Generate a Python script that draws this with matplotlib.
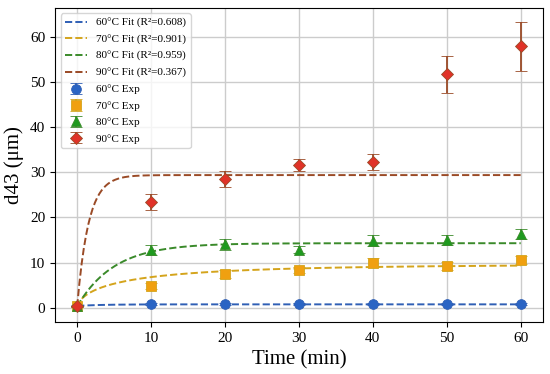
import numpy as np
import matplotlib
matplotlib.use('Agg')
import matplotlib.pyplot as plt

plt.rcParams['font.family'] = ['Liberation Serif', 'DejaVu Serif']
plt.rcParams['mathtext.fontset'] = 'stix'

time_min = [0, 10, 20, 30, 40, 50, 60]
labels = ['60°C', '70°C', '80°C', '90°C']
r2 = ['0.608', '0.901', '0.959', '0.367']

d43_60 = [0.4, 0.8, 0.8, 0.9, 0.8, 0.8, 0.8]
d43_70 = [0.3, 4.8, 7.5, 8.3, 10.0, 9.3, 10.6]
d43_80 = [0.3, 12.8, 14.1, 12.9, 14.9, 15.0, 16.3]
d43_90 = [0.3, 23.5, 28.6, 31.7, 32.3, 51.8, 57.9]

err_60 = [0.1, 0.2, 0.2, 0.2, 0.2, 0.2, 0.2]
err_70 = [0.1, 0.6, 0.8, 0.7, 1.0, 0.9, 0.9]
err_80 = [0.1, 1.1, 1.2, 0.8, 1.2, 1.1, 1.1]
err_90 = [0.1, 1.8, 1.8, 1.3, 1.8, 4.1, 5.4]

# fit parameters: y = y0 + (ymax - y0) * (1 - exp(-(k t)^n))
fit_y0 = [0.4, 0.0, 0.3, 0.3]
fit_ymax = [0.75, 9.6, 14.3, 29.4]
fit_k = [0.3, 0.141, 0.2, 0.65]
fit_n = [1.0, 0.6, 1.0, 1.0]

exp_data = [d43_60, d43_70, d43_80, d43_90]
exp_err = [err_60, err_70, err_80, err_90]

fit_colors = ['#2f5fb5', '#d4a41c', '#3a8a2a', '#9a4a26']
marker_colors = ['#2a64c4', '#f0a010', '#1f9a1f', '#e03228']
markers = ['o', 's', '^', 'D']
msizes = [7, 7, 7, 6]

fig, ax = plt.subplots(figsize=(5.5, 3.74), dpi=100)
fig.subplots_adjust(left=0.1, right=0.987, bottom=0.139, top=0.979)

t = np.linspace(0, 60, 400)
for i in range(4):
    y = fit_y0[i] + (fit_ymax[i] - fit_y0[i]) * (1 - np.exp(-(fit_k[i] * t) ** fit_n[i]))
    ax.plot(t, y, '--', color=fit_colors[i], lw=1.4,
            label=f'{labels[i]} Fit (R²={r2[i]})')

for i in range(4):
    ax.errorbar(time_min, exp_data[i], yerr=exp_err[i], fmt=markers[i],
                color=marker_colors[i], ecolor=fit_colors[i],
                markeredgecolor=fit_colors[i], markeredgewidth=0.6,
                ms=msizes[i], capsize=4, elinewidth=1.3, capthick=1.3,
                label=f'{labels[i]} Exp')

ax.set_xlabel('Time (min)', fontsize=15)
ax.set_ylabel('d43 (μm)', fontsize=15)
ax.set_xticks(time_min)
ax.set_yticks([0, 10, 20, 30, 40, 50, 60])
ax.tick_params(labelsize=11)
ax.grid(True, color='#cccccc', lw=1.0)
ax.legend(loc='upper left', fontsize=8, labelspacing=0.6, handlelength=2.0)

plt.savefig('out.png', dpi=100)
